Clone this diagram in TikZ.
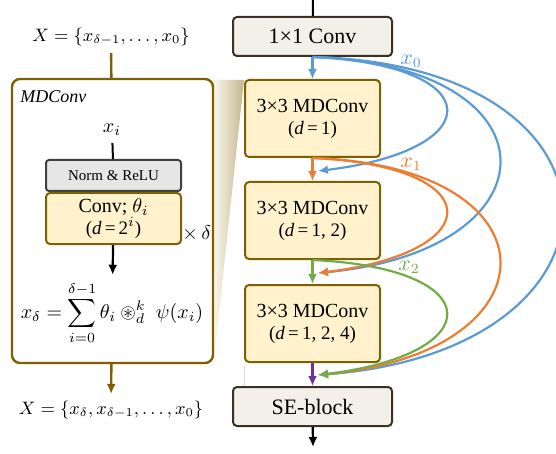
\documentclass[tikz,border=0pt]{standalone}
\usepackage{amsmath,amssymb}
\usepackage{fontspec}
\setmainfont{Liberation Serif}
\usetikzlibrary{arrows.meta, positioning}

\definecolor{mdbrown}{HTML}{7F6000}
\definecolor{mdfill}{HTML}{FFF2CC}
\definecolor{convfill}{HTML}{F3EFE9}
\definecolor{convline}{HTML}{3B3022}
\definecolor{normfill}{HTML}{E7E6E6}
\definecolor{normline}{HTML}{404040}
\definecolor{xblue}{HTML}{5B9BD5}
\definecolor{xorange}{HTML}{ED7D31}
\definecolor{xgreen}{HTML}{70AD47}
\definecolor{xpurple}{HTML}{7030A0}
\definecolor{wedgedark}{HTML}{C4B68E}
\definecolor{wedgelight}{HTML}{FCF8EE}

\tikzset{
  plainbox/.style={draw=convline, fill=convfill, line width=1pt, rounded corners=2pt,
    minimum width=79.5pt, minimum height=19.5pt, inner sep=0pt, font=\fontsize{11}{13}\selectfont},
  mdbox/.style={draw=mdbrown, fill=mdfill, line width=1pt, rounded corners=2pt,
    minimum width=67.5pt, minimum height=38.5pt, inner sep=0pt, align=center,
    font=\fontsize{10}{11}\selectfont},
  normbox/.style={draw=normline, fill=normfill, line width=1pt, rounded corners=1.5pt,
    minimum width=67.5pt, minimum height=15.5pt, inner sep=0pt, font=\fontsize{7.5}{9}\selectfont},
  link/.style={line width=1.1pt, -{Latex[length=5pt,width=4.5pt]}},
  xlabel/.style={font=\fontsize{10.5}{12}\selectfont, inner sep=1pt},
}

\begin{document}
\begin{tikzpicture}[x=0.5pt,y=-0.5pt]
  \useasboundingbox (0,0) rectangle (556,454);

  % --- Zoom wedge between the panel and the block column ---
  \shade[left color=wedgelight, right color=wedgedark] (213,80) -- (244,80) -- (214,360) -- cycle;

  % --- Main column ---
  \node[plainbox] (conv) at (312.5,36.5) {1×1 Conv};
  \node[mdbox] (md1) at (312.5,118.5) {3×3 MDConv\\{\fontsize{9.5}{11}\selectfont(\textit{d}\,=\,1)}};
  \node[mdbox] (md2) at (312.5,220.5) {3×3 MDConv\\{\fontsize{9.5}{11}\selectfont(\textit{d}\,=\,1, 2)}};
  \node[mdbox] (md3) at (312.5,323.5) {3×3 MDConv\\{\fontsize{9.5}{11}\selectfont(\textit{d}\,=\,1, 2, 4)}};
  \node[plainbox] (se) at (312.5,406.5) {SE-block};

  % faint outline left of the last gap
  \draw[black!15, line width=0.5pt] (md3.south west) ++(0,3) -- (se.north west -| md3.south west);

  \coordinate (top) at (313,0);
  \coordinate (out) at (313,447);
  \draw[line width=1pt] (top) -- (conv);
  \draw[link] (se) -- (out);

  % Merge points of the skip paths (just right of the column axis)
  \coordinate (j1) at (318,171);
  \coordinate (j2) at (318,273);
  \coordinate (j3) at (318,375);

  % --- Straight flow between blocks ---
  \draw[link, xblue] (conv) -- (md1);
  \draw[link, xorange] (md1) -- (md2);
  \draw[link, xgreen] (md2) -- (md3);
  \draw[link, xpurple] (md3) -- (se);

  % --- Dense skip paths ---
  % x_0 (blue) to every later input
  \draw[link, xblue] (conv.south) .. controls +(177,8) and +(172,-21) .. (j1);
  \draw[link, xblue] (conv.south) .. controls +(248,8) and +(243,-23) .. (j2);
  \draw[link, xblue] (conv.south) .. controls +(331,8) and +(326,-25) .. (j3);
  % x_1 (orange)
  \draw[link, xorange] (md1.south) .. controls +(177,8) and +(172,-21) .. (j2);
  \draw[link, xorange] (md1.south) .. controls +(248,8) and +(243,-23) .. (j3);
  % x_2 (green)
  \draw[link, xgreen] (md2.south) .. controls +(177,8) and +(172,-21) .. (j3);

  \node[xlabel, text=xblue] (lx0) at (411,61) {$x_0$};
  \node[xlabel, text=xorange] (lx1) at (411,164) {$x_1$};
  \node[xlabel, text=xgreen] (lx2) at (409,267) {$x_2$};

  % --- MDConv detail panel ---
  \node[draw=mdbrown, line width=1.2pt, rounded corners=4pt,
        minimum width=100.5pt, minimum height=142pt] (panel) at (112.5,221) {};
  \node[anchor=north west, inner sep=0pt, font=\itshape\fontsize{9}{11}\selectfont] (title) at (20,90) {MDConv};

  \node[font=\fontsize{9}{11}\selectfont] (xin) at (111,37) {$X=\{x_{\delta-1},\dots,x_0\}$};
  \node[font=\fontsize{9}{11}\selectfont] (xout) at (111,410) {$X=\{x_\delta,x_{\delta-1},\dots,x_0\}$};
  \draw[mdbrown, line width=1.2pt] (xin) -- (panel);
  \draw[mdbrown, link, line width=1.2pt] (panel) -- (xout);

  \node (xi) at (112,130) {$x_i$};
  \node[normbox] (norm) at (113.5,175.5) {Norm \& ReLU};
  \node[mdbox, minimum height=25.5pt] (convi) at (113.5,218.5)
    {Conv; $\theta_i$\\{\fontsize{9.5}{11}\selectfont(\textit{d}\,=\,2$^i$)}};
  \node[anchor=west, inner sep=1pt] (rep) at (180,233) {$\times\,\delta$};
  \node (sum) at (112,313) {$\displaystyle x_\delta=\sum_{i=0}^{\delta-1}\theta_i\circledast_d^k\;\psi(x_i)$};

  \draw[line width=1pt] (xi) -- (norm);
  \draw[link] (convi) -- (sum);

\end{tikzpicture}
\end{document}
